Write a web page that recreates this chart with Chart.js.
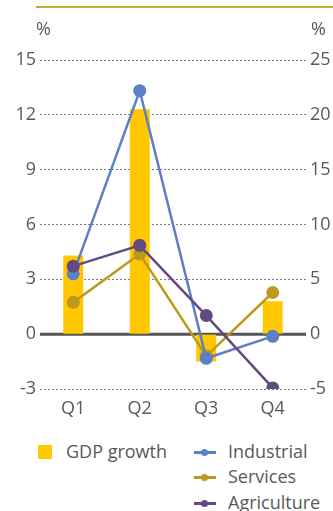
<!DOCTYPE html>
<html>
<head>
<meta charset="utf-8">
<script src="https://cdn.jsdelivr.net/npm/chart.js@4"></script>
<style>
  html, body { margin: 0; padding: 0; background: #fff; }
  body { width: 333px; height: 511px; position: relative; overflow: hidden; font-family: "Open Sans", sans-serif; }
  #rule { position: absolute; left: 36px; right: 0; top: 6px; height: 2px; background: #c9a83c; }
  #wrap { position: absolute; left: 0; top: 0; width: 333px; height: 430px; }
  .leg { position: absolute; font-size: 18px; color: #595959; line-height: 22px; white-space: nowrap; }
  .sq { position: absolute; width: 14px; height: 14px; }
  .ln { position: absolute; width: 22px; height: 3px; }
  .ln i { position: absolute; left: 7px; top: -2px; width: 7px; height: 7px; border-radius: 50%; }
</style>
</head>
<body>
<div id="rule"></div>
<div id="wrap"><canvas id="c" width="333" height="430"></canvas></div>
<div id="legend"></div>
<script>
const quarters = ["Q1", "Q2", "Q3", "Q4"];
const gdpGrowth = [4.3, 12.3, -1.5, 1.8];
const industrial = [5.5, 22.2, -2.2, -0.2];
const services = [2.9, 7.3, -2.0, 3.8];
const agriculture = [6.2, 8.1, 1.7, -4.9];
const leftTicks = [-3, 0, 3, 6, 9, 12, 15];
const rightTicks = [-5, 0, 5, 10, 15, 20, 25];

const colors = {
  gdp: "#ffc800",
  industrial: "#5d80c4",
  services: "#bd9a1b",
  agriculture: "#634a80"
};

const textColor = "#595959";
const font = { family: "'Open Sans', sans-serif", size: 18 };

// Solid baseline at zero plus the "%" unit captions above each axis
const extras = {
  id: "extras",
  beforeDatasetsDraw(chart) {
    const ctx = chart.ctx;
    const y0 = chart.scales.y.getPixelForValue(0);
    const a = chart.chartArea;
    ctx.save();
    ctx.strokeStyle = "#555555";
    ctx.lineWidth = 3;
    ctx.beginPath();
    ctx.moveTo(a.left, y0);
    ctx.lineTo(a.right, y0);
    ctx.stroke();
    ctx.restore();
  },
  afterDraw(chart) {
    const ctx = chart.ctx;
    const a = chart.chartArea;
    ctx.save();
    ctx.fillStyle = textColor;
    ctx.font = "18px 'Open Sans', sans-serif";
    ctx.textBaseline = "middle";
    ctx.textAlign = "left";
    ctx.fillText("%", 36, a.top - 30);
    ctx.fillText("%", 311, a.top - 30);
    ctx.restore();
  }
};

function lineSet(label, data, color, order) {
  return {
    type: "line",
    label,
    data,
    yAxisID: "y1",
    borderColor: color,
    backgroundColor: color,
    borderWidth: 2.5,
    pointRadius: 6.5,
    pointHoverRadius: 6.5,
    pointBorderWidth: 0,
    tension: 0,
    order
  };
}

new Chart(document.getElementById("c"), {
  data: {
    labels: quarters,
    datasets: [
      {
        type: "bar",
        label: "GDP growth",
        data: gdpGrowth,
        yAxisID: "y",
        backgroundColor: colors.gdp,
        barPercentage: 0.3,
        categoryPercentage: 1,
        order: 4
      },
      lineSet("Industrial", industrial, colors.industrial, 2),
      lineSet("Services", services, colors.services, 3),
      lineSet("Agriculture", agriculture, colors.agriculture, 1)
    ]
  },
  options: {
    responsive: false,
    animation: false,
    devicePixelRatio: 1,
    layout: { padding: { top: 60, bottom: 0, left: 0, right: 0 } },
    plugins: { legend: { display: false }, tooltip: { enabled: false } },
    scales: {
      x: {
        grid: { display: false, drawTicks: false },
        border: { display: false },
        ticks: { color: textColor, font, padding: 9 },
        afterFit(s) { s.height = 41; }
      },
      y: {
        position: "left",
        min: -3, max: 15,
        afterBuildTicks(s) { s.ticks = leftTicks.map(v => ({ value: v })); },
        ticks: { color: textColor, font, padding: 4 },
        grid: {
          color: (c) => c.tick && c.tick.value === 0 ? "rgba(0,0,0,0)" : "#7a7a7a",
          lineWidth: 1,
          drawTicks: false
        },
        border: { display: false, dash: [2, 2] },
        afterFit(s) { s.width = 40; }
      },
      y1: {
        position: "right",
        min: -5, max: 25,
        afterBuildTicks(s) { s.ticks = rightTicks.map(v => ({ value: v })); },
        ticks: { color: textColor, font, padding: 4 },
        grid: { display: false, drawTicks: false },
        border: { display: false },
        afterFit(s) { s.width = 27; }
      }
    }
  },
  plugins: [extras]
});

// Legend: bar entry on the left, line entries stacked on the right
const legendItems = [
  { label: "GDP growth", kind: "bar", color: colors.gdp, x: 38, y: 452 },
  { label: "Industrial", kind: "line", color: colors.industrial, x: 194, y: 452 },
  { label: "Services", kind: "line", color: colors.services, x: 194, y: 477 },
  { label: "Agriculture", kind: "line", color: colors.agriculture, x: 194, y: 503 }
];
const legend = document.getElementById("legend");
legendItems.forEach(it => {
  if (it.kind === "bar") {
    const s = document.createElement("div");
    s.className = "sq";
    s.style.left = it.x + "px";
    s.style.top = (it.y - 7) + "px";
    s.style.background = it.color;
    legend.appendChild(s);
  } else {
    const l = document.createElement("div");
    l.className = "ln";
    l.style.left = it.x + "px";
    l.style.top = (it.y - 1) + "px";
    l.style.background = it.color;
    const d = document.createElement("i");
    d.style.background = it.color;
    l.appendChild(d);
    legend.appendChild(l);
  }
  const t = document.createElement("div");
  t.className = "leg";
  t.textContent = it.label;
  t.style.left = (it.x + (it.kind === "bar" ? 28 : 34)) + "px";
  t.style.top = (it.y - 12) + "px";
  legend.appendChild(t);
});
</script>
</body>
</html>
